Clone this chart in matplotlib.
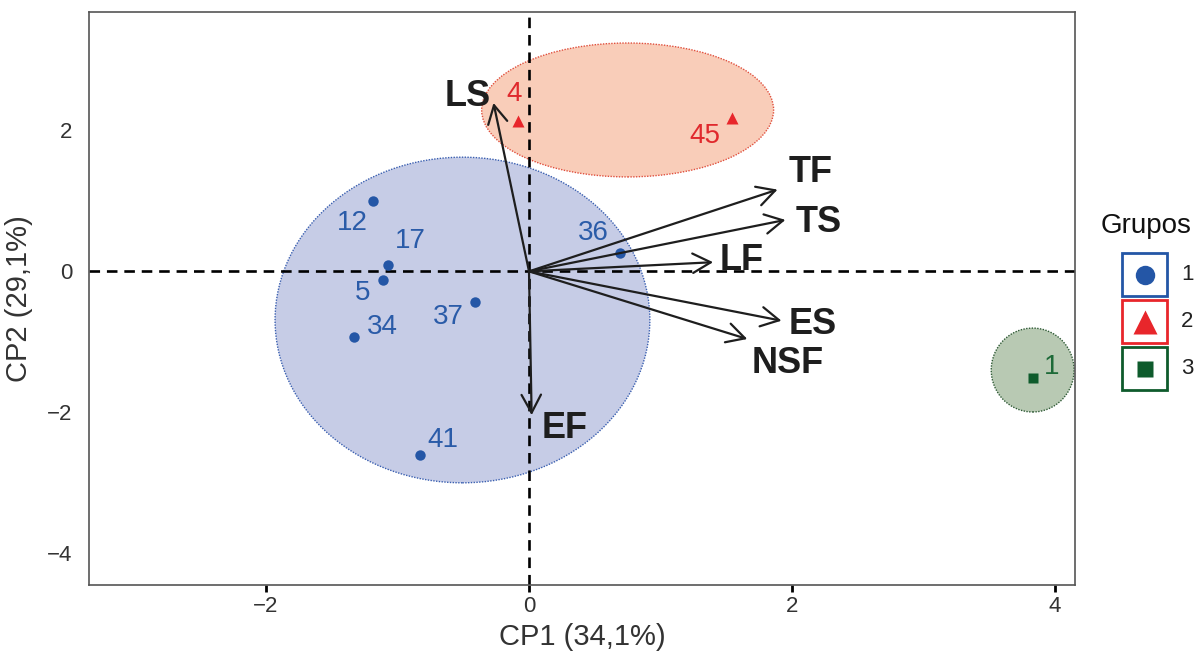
import matplotlib
matplotlib.use("Agg")
import matplotlib.pyplot as plt
from matplotlib.patches import Ellipse, Rectangle

plt.rcParams['font.family'] = ['Liberation Sans', 'DejaVu Sans']

# ---- data ----
ids = ["12", "17", "5", "34", "37", "36", "41", "4", "45", "1"]
cp1 = [-1.19, -1.07, -1.11, -1.33, -0.41, 0.69, -0.83, -0.08, 1.54, 3.83]
cp2 = [1.00, 0.09, -0.12, -0.93, -0.43, 0.26, -2.60, 2.13, 2.18, -1.51]
grupo = [1, 1, 1, 1, 1, 1, 1, 2, 2, 3]

variables = ["LS", "TF", "TS", "LF", "ES", "NSF", "EF"]
load1 = [-0.27, 1.89, 1.95, 1.40, 1.92, 1.66, 0.02]
load2 = [2.39, 1.16, 0.73, 0.13, -0.70, -0.96, -2.04]

groups = [1, 2, 3]
ell_cx = [-0.506, 0.75, 3.83]
ell_cy = [-0.69, 2.29, -1.40]
ell_w = [2.85, 2.22, 0.63]
ell_h = [4.62, 1.90, 1.19]

x_label = "CP1 (34,1%)"
y_label = "CP2 (29,1%)"
legend_title = "Grupos"

# ---- styles ----
pt_color = {1: "#2456a6", 2: "#e8262b", 3: "#0e5b2c"}
txt_color = {1: "#2a5ba8", 2: "#e0292d", 3: "#1d6a38"}
fill_color = {1: "#c6cce6", 2: "#f9cdb9", 3: "#b8c9b3"}
edge_color = {1: "#3a5fb0", 2: "#e0503e", 3: "#2e5a35"}
marker = {1: "o", 2: "^", 3: "s"}
msize = {1: 7.5, 2: 8.5, 3: 6.5}

# label offsets (pixels) for point labels & arrow labels
pt_off = {"12": (-20, -22), "17": (22, 24), "5": (-20, -13), "34": (28, 10),
          "37": (-27, -15), "36": (-26, 20), "41": (23, 15), "4": (-4, 27),
          "45": (-27, -18), "1": (19, 11)}
var_off = {"LS": (-26, 6), "TF": (33, 17), "TS": (33, -3), "LF": (29, 2),
           "ES": (31, -4), "NSF": (40, -24), "EF": (33, -13)}

W, H = 1197, 652
fig = plt.figure(figsize=(W / 100, H / 100), dpi=100)
ax = fig.add_axes([89 / W, 1 - 585 / H, (1075 - 89) / W, (585 - 12) / H])
ax.set_xlim(-3.346, 4.152)
ax.set_ylim(-4.45, 3.68)

# ellipses
for g, cx, cy, w, h in zip(groups, ell_cx, ell_cy, ell_w, ell_h):
    e = Ellipse((cx, cy), w, h, facecolor=fill_color[g], edgecolor=edge_color[g],
                linestyle=(0, (1, 1)), linewidth=1.0, zorder=1 + g * 0.1)
    ax.add_patch(e)

# reference lines
ax.axhline(0, color="black", lw=1.9, dashes=(4, 2.6), zorder=2)
ax.axvline(0, color="black", lw=1.9, dashes=(4, 2.6), zorder=2)

# points
for g in groups:
    xs = [x for x, gg in zip(cp1, grupo) if gg == g]
    ys = [y for y, gg in zip(cp2, grupo) if gg == g]
    ax.plot(xs, ys, linestyle="none", marker=marker[g], ms=msize[g],
            color=pt_color[g], mec="none", zorder=4)

for lab, x, y, g in zip(ids, cp1, cp2, grupo):
    ax.annotate(lab, (x, y), xytext=pt_off[lab], textcoords="offset pixels",
                ha="center", va="center", fontsize=20, color=txt_color[g], zorder=5)

# arrows
for v, a, b in zip(variables, load1, load2):
    ax.annotate("", xy=(a, b), xytext=(0, 0),
                arrowprops=dict(arrowstyle="->,head_length=0.65,head_width=0.35",
                                color="#1e1e1e", lw=1.6, shrinkA=0, shrinkB=0,
                                mutation_scale=20), zorder=6)
    ax.annotate(v, (a, b), xytext=var_off[v], textcoords="offset pixels",
                ha="center", va="center", fontsize=26, fontweight="bold",
                color="#1e1e1e", zorder=7)

# axes style
for s in ax.spines.values():
    s.set_color("#555555")
    s.set_linewidth(1.2)
ax.set_xticks([-2, 0, 2, 4])
ax.set_yticks([-4, -2, 0, 2])
ax.set_xticklabels(["\u22122", "0", "2", "4"])
ax.set_yticklabels(["\u22124", "\u22122", "0", "2"])
ax.tick_params(axis="x", length=5, width=2, color="black", labelsize=16,
               labelcolor="#333333", pad=3)
ax.tick_params(axis="y", length=0, labelsize=16, labelcolor="#333333", pad=12)
ax.set_xlabel(x_label, fontsize=21, color="#333333", labelpad=4)
ax.set_ylabel(y_label, fontsize=21, color="#333333", labelpad=10)

# legend
lax = fig.add_axes([0, 0, 1, 1], facecolor="none")
lax.set_xlim(0, W)
lax.set_ylim(H, 0)
lax.axis("off")
lax.text(1146, 226, legend_title, ha="center", va="center", fontsize=20, color="#111111")
box_tops = [253, 300, 347]
for g, top in zip(groups, box_tops):
    lax.add_patch(Rectangle((1122, top), 45, 43, facecolor="white",
                            edgecolor=pt_color[g], lw=2))
    lax.plot([1144.5], [top + 21.5], marker=marker[g],
             ms={1: 14, 2: 17, 3: 12}[g], color=pt_color[g], mec="none")
    lax.text(1181, top + 21.5, str(g), ha="left", va="center", fontsize=16,
             color="#222222")

fig.savefig("out.png", dpi=100)
